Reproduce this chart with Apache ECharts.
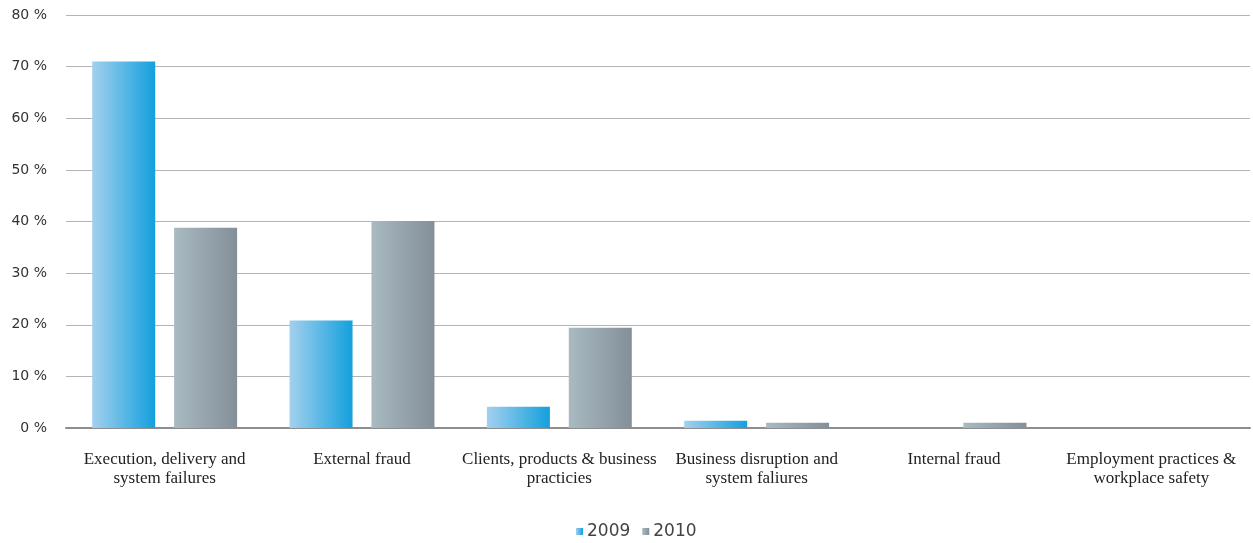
<!DOCTYPE html>
<html>
<head>
<meta charset="utf-8">
<script src="https://cdn.jsdelivr.net/npm/echarts@6/dist/echarts.min.js"></script>
<style>html,body{margin:0;padding:0;background:#fff}#c{width:1253px;height:543px}</style>
</head>
<body>
<div id="c"></div>
<script>
const categories = [
  "Execution, delivery and\nsystem failures",
  "External fraud",
  "Clients, products & business\npracticies",
  "Business disruption and\nsystem faliures",
  "Internal fraud",
  "Employment practices &\nworkplace safety"
];
const seriesNames = ["2009", "2010"];
const values2009 = [71, 20.8, 4.1, 1.4, 0, 0];
const values2010 = [38.8, 40.1, 19.4, 1.0, 1.0, 0];
const yTicks = { min: 0, max: 80, interval: 10 };

function grad(a, b) {
  return new echarts.graphic.LinearGradient(0, 0, 1, 0, [
    { offset: 0, color: a }, { offset: 1, color: b }
  ]);
}
const blue = grad('#a3d0ee', '#13a0dd');
const grey = grad('#a9bac1', '#838f99');

const chart = echarts.init(document.getElementById('c'), null, { renderer: 'canvas' });
chart.setOption({
  animation: false,
  backgroundColor: '#ffffff',
  grid: { left: 66, right: 3, top: 15, bottom: 115, containLabel: false },
  legend: {
    top: 518, left: 571,
    itemWidth: 7, itemHeight: 7, itemGap: 12,
    textStyle: { fontFamily: 'DejaVu Sans', fontSize: 17, color: '#444', padding: [0, 0, 0, -1] },
    icon: 'rect',
    data: seriesNames
  },
  xAxis: {
    type: 'category',
    data: categories,
    axisTick: { show: false },
    axisLine: { lineStyle: { color: '#8e8e8e', width: 2 } },
    axisLabel: {
      interval: 0, margin: 22,
      fontFamily: 'Liberation Serif', fontSize: 17, color: '#222', lineHeight: 19
    }
  },
  yAxis: {
    type: 'value',
    min: yTicks.min, max: yTicks.max, interval: yTicks.interval,
    axisLine: { show: false },
    axisTick: { show: false },
    splitLine: { lineStyle: { color: '#b4b4b4', width: 1 } },
    axisLabel: {
      formatter: '{value} %', margin: 19,
      fontFamily: 'DejaVu Sans', fontSize: 14, color: '#333'
    }
  },
  series: [
    { name: seriesNames[0], type: 'bar', data: values2009, barWidth: 63, barGap: '30%',
      itemStyle: { color: blue } },
    { name: seriesNames[1], type: 'bar', data: values2010, barWidth: 63, barGap: '30%',
      itemStyle: { color: grey } }
  ]
});
</script>
</body>
</html>
